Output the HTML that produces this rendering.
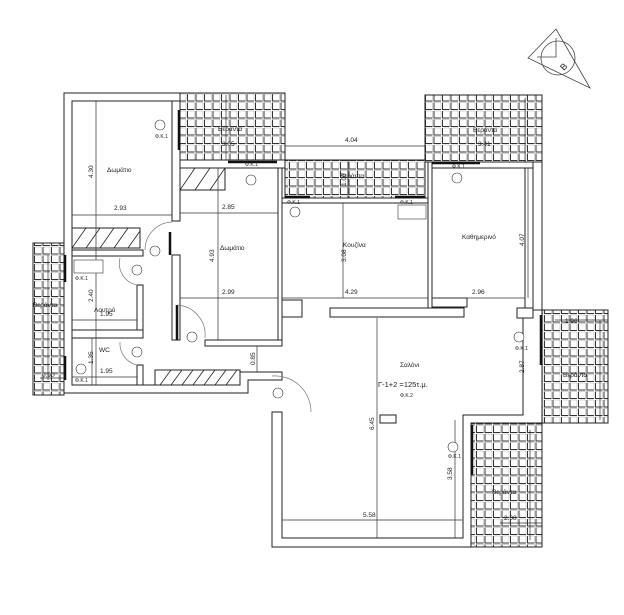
<!DOCTYPE html>
<html><head><meta charset="utf-8"><style>
html,body{margin:0;padding:0;background:#fff}
svg{display:block}
text{font-family:"Liberation Sans",sans-serif;fill:#222}
</style></head><body>
<svg width="624" height="615" viewBox="0 0 624 615" xmlns="http://www.w3.org/2000/svg">
<defs>
<pattern id="h" width="8.5" height="8.5" patternUnits="userSpaceOnUse">
<rect width="8.5" height="8.5" fill="#fff"/>
<path d="M0.5 0.5V7.5H7.5" stroke="#333" stroke-width="1" fill="none"/>
<path d="M0.5 0.5H7.5V7.5" stroke="#aaa" stroke-width="0.5" fill="none"/>
</pattern>
</defs>
<g stroke="#222" stroke-width="1" fill="url(#h)">
<rect x="180" y="93" width="105" height="68"/>
<rect x="285" y="160" width="140" height="38"/>
<rect x="425" y="95" width="117" height="67"/>
<rect x="542" y="310" width="66" height="113"/>
<rect x="471" y="423" width="71" height="124"/>
<rect x="33" y="243" width="31" height="152"/>
</g>
<g stroke="#222" stroke-width="1" fill="#fff">
<rect x="72" y="228" width="68" height="20"/>
<rect x="180" y="168" width="45" height="22"/>
<rect x="155" y="370" width="85" height="15"/>
</g>
<g stroke="#222" stroke-width="0.8">
<path d="M72 248L86 228M86 248L100 228M100 248L114 228M114 248L128 228M128 248L140 231"/>
<path d="M180 190L195 168M195 190L210 168M210 190L225 168"/>
<path d="M160 385L171 370M171 385L182 370M182 385L193 370M193 385L204 370M204 385L215 370M215 385L226 370M226 385L237 370"/>
</g>
<g stroke="#222" stroke-width="1" fill="#fff">
<path d="M64 93H180V101H72V385H240V372H282V380H248V393H64Z"/>
<rect x="172" y="101" width="8" height="120"/>
<rect x="172" y="255" width="8" height="85"/>
<rect x="72" y="250" width="71" height="6"/>
<rect x="137" y="285" width="6" height="45"/>
<rect x="72" y="330" width="71" height="8"/>
<rect x="137" y="365" width="6" height="20"/>
<rect x="180" y="160" width="105" height="8"/>
<rect x="278" y="168" width="4" height="172"/>
<rect x="205" y="340" width="77" height="6"/>
<rect x="282" y="198" width="146" height="5"/>
<rect x="428" y="162" width="4" height="148"/>
<rect x="432" y="162" width="110" height="6"/>
<rect x="525" y="168" width="8" height="140"/>
<rect x="533" y="162" width="9" height="148"/>
<rect x="282" y="300" width="20" height="17"/>
<rect x="330" y="308" width="134" height="9"/>
<rect x="432" y="298" width="35" height="9"/>
<rect x="517" y="308" width="16" height="10"/>
<path d="M523 318H533V310H542V423H471V547H272V412H282V538H463V415H523Z"/>
<rect x="380" y="415" width="16" height="8"/>
</g>
<g stroke="#111" stroke-width="2.5">
<path d="M179 110V150M228 162H277M285 197H310M395 197H425M432 163H480M541 315V365M472 425V475M65 255V282M65 356V380M170 232V255M177 305V340"/>
</g>
<g stroke="#777" stroke-width="0.7" fill="none">
<path d="M172 222A28 28 0 0 0 145 250"/>
<path d="M120 258A22 22 0 0 0 137 285"/>
<path d="M120 342A22 22 0 0 0 137 365"/>
<path d="M177 305A30 30 0 0 1 205 338"/>
<path d="M272 376A36 36 0 0 1 311 412"/>
</g>
<g stroke="#333" stroke-width="0.7">
<path d="M96 101V385M72 215H172M180 213H278M180 298H278M218 168V340M285 146H425M343 203V298M282 298H428M432 298H525M528 168V298M377 318V538M282 520H463M455 420V538M257 346V372M72 320H137M72 377H137M92 338V385M40 378H64M48 255V380M226 95V160M525 98V162M348 160V198M500 523H542M555 320H608M600 320V420M530 430V540"/>
</g>
<g font-size="6.5">
<text x="107" y="172">Δωμάτιο</text>
<text x="220" y="250">Δωμάτιο</text>
<text x="343" y="247">Κουζίνα</text>
<text x="462" y="239">Καθημερινό</text>
<text x="400" y="367">Σαλόνι</text>
<text x="378" y="387" font-size="7.5">Γ-1+2 =125τ.μ.</text>
<text x="94" y="312">Λουτρό</text>
<text x="99" y="352">WC</text>
<text x="218" y="131">Βεράντα</text>
<text x="340" y="178">Βεράντα</text>
<text x="473" y="132">Βεράντα</text>
<text x="563" y="377">Βεράντα</text>
<text x="492" y="494">Βεράντα</text>
<text x="33" y="307">Βεράντα</text>
<text x="114" y="210">2.93</text>
<text x="222" y="209">2.85</text>
<text x="222" y="294">2.99</text>
<text x="345" y="142">4.04</text>
<text x="345" y="294">4.29</text>
<text x="472" y="294">2.96</text>
<text x="100" y="316">1.95</text>
<text x="100" y="373">1.95</text>
<text x="363" y="517">5.58</text>
<text x="504" y="520">2.00</text>
<text x="222" y="146">3.05</text>
<text x="478" y="146">3.41</text>
<text x="565" y="323">1.96</text>
<text x="42" y="377">0.90</text>
<text transform="translate(93,178) rotate(-90)">4.30</text>
<text transform="translate(214,262) rotate(-90)">4.93</text>
<text transform="translate(93,302) rotate(-90)">2.40</text>
<text transform="translate(93,364) rotate(-90)">1.35</text>
<text transform="translate(255,365) rotate(-90)">0.85</text>
<text transform="translate(374,430) rotate(-90)">6.45</text>
<text transform="translate(452,480) rotate(-90)">3.58</text>
<text transform="translate(524,373) rotate(-90)">2.87</text>
<text transform="translate(524,246) rotate(-90)">4.07</text>
<text transform="translate(346,262) rotate(-90)">3.08</text>
<text transform="translate(346,186) rotate(-90)">1.00</text>
</g>
<g font-size="5">
<text x="155" y="138" fill="#c33">Φ.Κ.1</text>
<text x="245" y="166" fill="#c33">Φ.Κ.1</text>
<text x="287" y="204" fill="#c33">Φ.Κ.1</text>
<text x="400" y="204" fill="#c33">Φ.Κ.1</text>
<text x="452" y="168" fill="#c33">Φ.Κ.1</text>
<text x="400" y="397" fill="#c33">Φ.Κ.2</text>
<text x="75" y="280" fill="#c33">Φ.Κ.1</text>
<text x="75" y="382" fill="#c33">Φ.Κ.1</text>
<text x="515" y="350" fill="#c33">Φ.Κ.1</text>
<text x="448" y="458" fill="#c33">Φ.Κ.1</text>
</g>
<g stroke="#333" stroke-width="0.6" fill="#fff">
<circle cx="160" cy="125" r="5"/><circle cx="251" cy="180" r="5"/><circle cx="295" cy="212" r="5"/>
<circle cx="457" cy="178" r="5"/><circle cx="155" cy="251" r="5"/><circle cx="137" cy="270" r="5"/>
<circle cx="137" cy="352" r="5"/><circle cx="81" cy="369" r="5"/><circle cx="192" cy="337" r="5"/>
<circle cx="278" cy="393" r="5"/><circle cx="519" cy="337" r="5"/><circle cx="453" cy="447" r="5"/>
<rect x="398" y="205" width="28" height="14"/><rect x="74" y="260" width="29" height="13"/>
</g>
<g stroke="#444" stroke-width="0.8" fill="none">
<circle cx="558" cy="58" r="17"/>
<path d="M556 29L528 58L590 88Z"/>
<path d="M556 38V57H537"/>
</g>
<text x="560" y="70" font-size="9" transform="rotate(-45 563 66)">Β</text>
</svg>
</body></html>
